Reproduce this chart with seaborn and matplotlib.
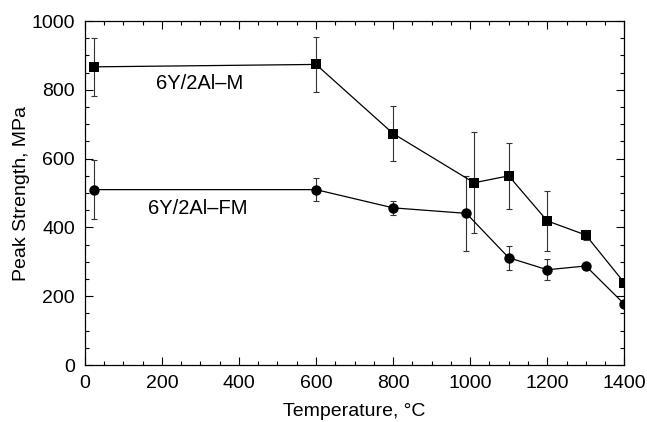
import numpy as np
import pandas as pd
import matplotlib
matplotlib.use("Agg")
import matplotlib.pyplot as plt
import seaborn as sns
from matplotlib.ticker import MultipleLocator

# data
temp_m = [25, 600, 800, 1010, 1100, 1200, 1300, 1400]
strength_m = [867, 874, 673, 530, 550, 419, 378, 239]
err_m = [85, 80, 80, 147, 97, 86, 15, 0]

temp_fm = [25, 600, 800, 990, 1100, 1200, 1300, 1400]
strength_fm = [510, 510, 457, 441, 312, 277, 288, 177]
err_fm = [86, 34, 21, 110, 35, 30, 10, 0]

df = pd.concat([
    pd.DataFrame({"Temperature": temp_m, "Strength": strength_m, "Material": "6Y/2Al–M"}),
    pd.DataFrame({"Temperature": temp_fm, "Strength": strength_fm, "Material": "6Y/2Al–FM"}),
])

sns.set_style("ticks", {"text.color": "black", "axes.labelcolor": "black",
                        "xtick.color": "black", "ytick.color": "black",
                        "axes.edgecolor": "black"})
plt.rcParams["font.family"] = ["Liberation Sans", "DejaVu Sans"]

fig = plt.figure(figsize=(6.47, 4.22), dpi=100)
ax = fig.add_axes([0.131, 0.135, 0.834, 0.815])

# error bars first so markers sit on top
ax.errorbar(temp_m, strength_m, yerr=err_m, fmt="none", ecolor="#333333",
            elinewidth=0.8, capsize=2.5, capthick=0.8, zorder=1)
ax.errorbar(temp_fm, strength_fm, yerr=err_fm, fmt="none", ecolor="#333333",
            elinewidth=0.8, capsize=2.5, capthick=0.8, zorder=1)

sns.lineplot(data=df, x="Temperature", y="Strength", hue="Material", style="Material",
             markers={"6Y/2Al–M": "s", "6Y/2Al–FM": "o"}, dashes=False,
             palette={"6Y/2Al–M": "black", "6Y/2Al–FM": "black"},
             linewidth=0.9, markersize=7.5, markeredgewidth=0, sort=False,
             legend=False, ax=ax, zorder=2)

ax.text(299, 820, "6Y/2Al–M", ha="center", va="center", fontsize=14.5)
ax.text(294, 456, "6Y/2Al–FM", ha="center", va="center", fontsize=14.5)

ax.set_xlim(0, 1400)
ax.set_ylim(0, 1000)
ax.xaxis.set_major_locator(MultipleLocator(200))
ax.xaxis.set_minor_locator(MultipleLocator(50))
ax.yaxis.set_major_locator(MultipleLocator(200))
ax.yaxis.set_minor_locator(MultipleLocator(50))
ax.tick_params(which="both", direction="in", top=True, right=True, labelsize=14, pad=7)
ax.tick_params(which="major", length=6, width=0.8)
ax.tick_params(which="minor", length=3, width=0.8)
for s in ax.spines.values():
    s.set_linewidth(0.9)

ax.set_xlabel("Temperature, °C", fontsize=14, labelpad=8)
ax.set_ylabel("Peak Strength, MPa", fontsize=14, labelpad=1)

fig.savefig("out.png", dpi=100)
